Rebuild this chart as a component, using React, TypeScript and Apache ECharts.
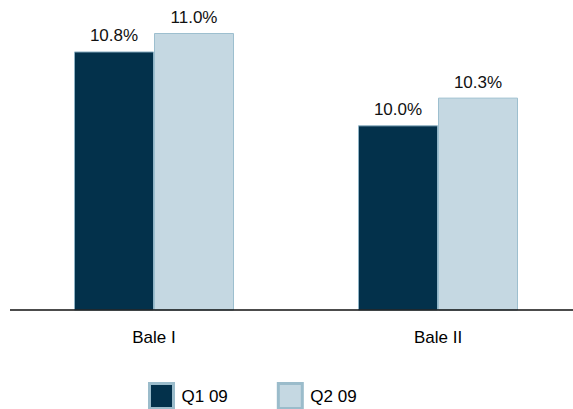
import React, { useEffect, useRef } from "react";
import * as echarts from "echarts";

const categories = ["Bale I", "Bale II"];
const seriesNames = ["Q1 09", "Q2 09"];
const q1Values = [10.8, 10.0];
const q2Values = [11.0, 10.3];

export default function App() {
  const ref = useRef<HTMLDivElement>(null);
  useEffect(() => {
    if (!ref.current) return;
    const chart = echarts.init(ref.current, undefined, { renderer: "svg" });
    const font = "'Liberation Sans', Arial, sans-serif";
    const label = {
      show: true,
      position: "top" as const,
      distance: 7,
      fontSize: 17,
      fontFamily: font,
      color: "#111",
      formatter: (p: any) => Number(p.value).toFixed(1) + "%",
    };
    chart.setOption({
      animation: false,
      backgroundColor: "#fff",
      grid: {
        left: 12,
        top: 33,
        width: 568,
        height: 277,
        containLabel: false,
        outerBoundsMode: "none",
      },
      legend: {
        left: 143,
        top: 377,
        itemWidth: 24,
        itemHeight: 25,
        itemGap: 49,
        icon: "rect",
        itemStyle: { borderWidth: 3, borderColor: "#9BBCCB" },
        textStyle: { fontSize: 17, fontFamily: font, color: "#000", padding: [0, 0, 0, 3] },
        data: seriesNames,
      },
      xAxis: {
        type: "category",
        data: categories,
        axisLine: { show: false },
        axisTick: { show: false },
        axisLabel: { margin: 19, fontSize: 17, fontFamily: font, color: "#000" },
      },
      yAxis: {
        type: "value",
        min: 8,
        max: 11,
        show: false,
        splitLine: { show: false },
      },
      graphic: [
        {
          type: "line",
          shape: { x1: 10, y1: 310, x2: 573, y2: 310 },
          style: { stroke: "#111", lineWidth: 1.5 },
          z: 100,
        },
      ],
      series: [
        {
          name: seriesNames[0],
          type: "bar",
          data: q1Values,
          barWidth: 80,
          barGap: "0%",
          itemStyle: { color: "#03314B", borderColor: "#8FB3C5", borderWidth: 1 },
          label,
        },
        {
          name: seriesNames[1],
          type: "bar",
          data: q2Values,
          barWidth: 80,
          barGap: "0%",
          itemStyle: { color: "#C5D8E2", borderColor: "#9DBFCF", borderWidth: 1 },
          label,
        },
      ],
    });
    return () => chart.dispose();
  }, []);
  return (
    <div
      ref={ref}
      style={{ position: "absolute", left: 0, top: 0, width: 573, height: 409 }}
    />
  );
}
